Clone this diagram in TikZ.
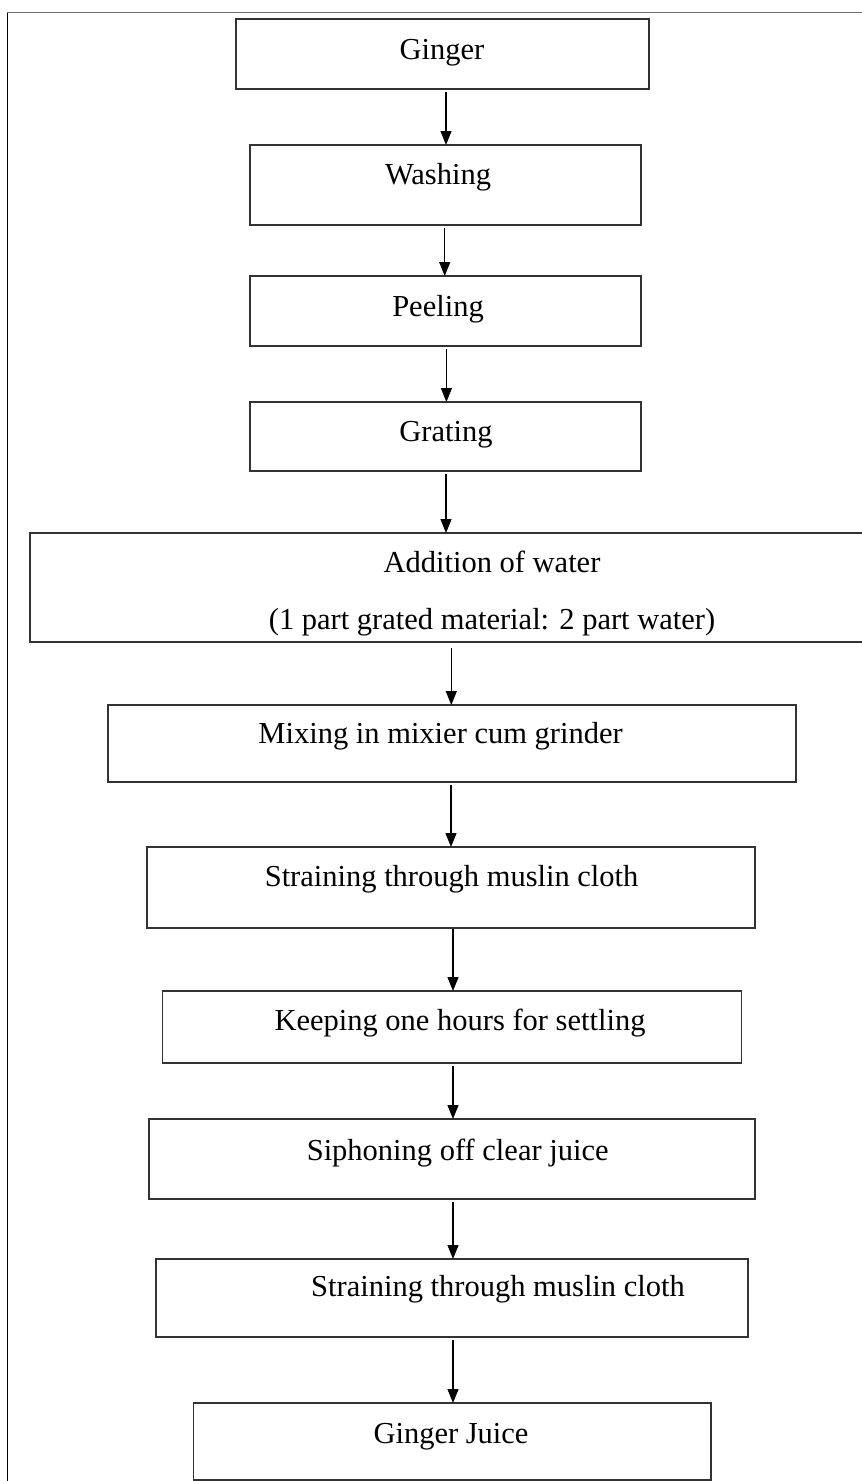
\documentclass[tikz,border=0pt]{standalone}
\usepackage{fontspec}
\setmainfont{Liberation Serif}
\usetikzlibrary{arrows.meta}
\definecolor{boxline}{HTML}{333333}
\definecolor{frametop}{HTML}{707070}
\tikzset{
  stepbox/.style={draw=boxline, line width=1.3pt, rectangle, inner sep=0pt, outer sep=0pt},
  steptext/.style={anchor=base, inner sep=0pt, font=\fontsize{30.5}{36}\selectfont},
  arr/.style={-{Triangle[length=14pt,width=11pt]}, line width=1.2pt, black, shorten <=3pt}
}
\begin{document}
\begin{tikzpicture}[x=1pt,y=-1pt]
\clip (0,0) rectangle (862,1481);
\fill[white] (0,0) rectangle (862,1481);
% outer frame (cut at right and bottom)
\draw[black, line width=1pt] (7.5,1490) -- (7.5,12.7);
\draw[frametop, line width=1.3pt] (7,12.7) -- (870,12.7);

% boxes
\node[stepbox, minimum width=413pt, minimum height=70pt] (b1) at (442.5,54) {};
\node[stepbox, minimum width=391pt, minimum height=80pt] (b2) at (445.5,185) {};
\node[stepbox, minimum width=391pt, minimum height=70pt] (b3) at (445.5,311) {};
\node[stepbox, minimum width=391pt, minimum height=69pt] (b4) at (445.5,436.5) {};
\node[stepbox, minimum width=838pt, minimum height=109pt] (b5) at (449,587.5) {};
\node[stepbox, minimum width=688pt, minimum height=77pt] (b6) at (452,743.5) {};
\node[stepbox, minimum width=608pt, minimum height=81pt] (b7) at (451,887.5) {};
\node[stepbox, minimum width=579pt, minimum height=72pt] (b8) at (452.3,1027) {};
\node[stepbox, minimum width=606pt, minimum height=80pt] (b9) at (452,1159) {};
\node[stepbox, minimum width=592pt, minimum height=78pt] (b10) at (452,1298) {};
\node[stepbox, minimum width=517.5pt, minimum height=77pt] (b11) at (452.25,1441.5) {};

% texts
\node[steptext] (t1) at (442,59.3) {Ginger};
\node[steptext] (t2) at (438,184) {Washing};
\node[steptext] (t3) at (438,316) {Peeling};
\node[steptext] (t4) at (446,441.7) {Grating};
\node[steptext] (t5a) at (492,572.7) {Addition of water};
\node[steptext] (t5b) at (492,629) {(1 part grated material: 2 part water)};
\node[steptext] (t6) at (440.6,743) {Mixing in mixier cum grinder};
\node[steptext] (t7) at (451.6,886.7) {Straining through muslin cloth};
\node[steptext] (t8) at (460,1030.7) {Keeping one hours for settling};
\node[steptext] (t9) at (457.7,1160) {Siphoning off clear juice};
\node[steptext] (t10) at (498,1296.7) {Straining through muslin cloth};
\node[steptext] (t11) at (451,1443) {Ginger Juice};

% arrow columns
\coordinate (a1) at (446,0);
\coordinate (a2) at (444.7,0);
\coordinate (a3) at (446.4,0);
\coordinate (a4) at (446,0);
\coordinate (a5) at (451.3,0);
\coordinate (a6) at (451,0);
\coordinate (a7) at (453,0);
\coordinate (a8) at (453,0);
\coordinate (a9) at (453,0);
\coordinate (a10) at (453,0);

\draw[arr] (a1 |- b1.south) -- (a1 |- b2.north);
\draw[arr] (a2 |- b2.south) -- (a2 |- b3.north);
\draw[arr] (a3 |- b3.south) -- (a3 |- b4.north);
\draw[arr] (a4 |- b4.south) -- (a4 |- b5.north);
\draw[arr, shorten <=6pt] (a5 |- b5.south) -- (a5 |- b6.north);
\draw[arr] (a6 |- b6.south) -- (a6 |- b7.north);
\draw[arr, shorten <=1pt] (a7 |- b7.south) -- (a7 |- b8.north);
\draw[arr] (a8 |- b8.south) -- (a8 |- b9.north);
\draw[arr] (a9 |- b9.south) -- (a9 |- b10.north);
\draw[arr] (a10 |- b10.south) -- (a10 |- b11.north);
\end{tikzpicture}
\end{document}
